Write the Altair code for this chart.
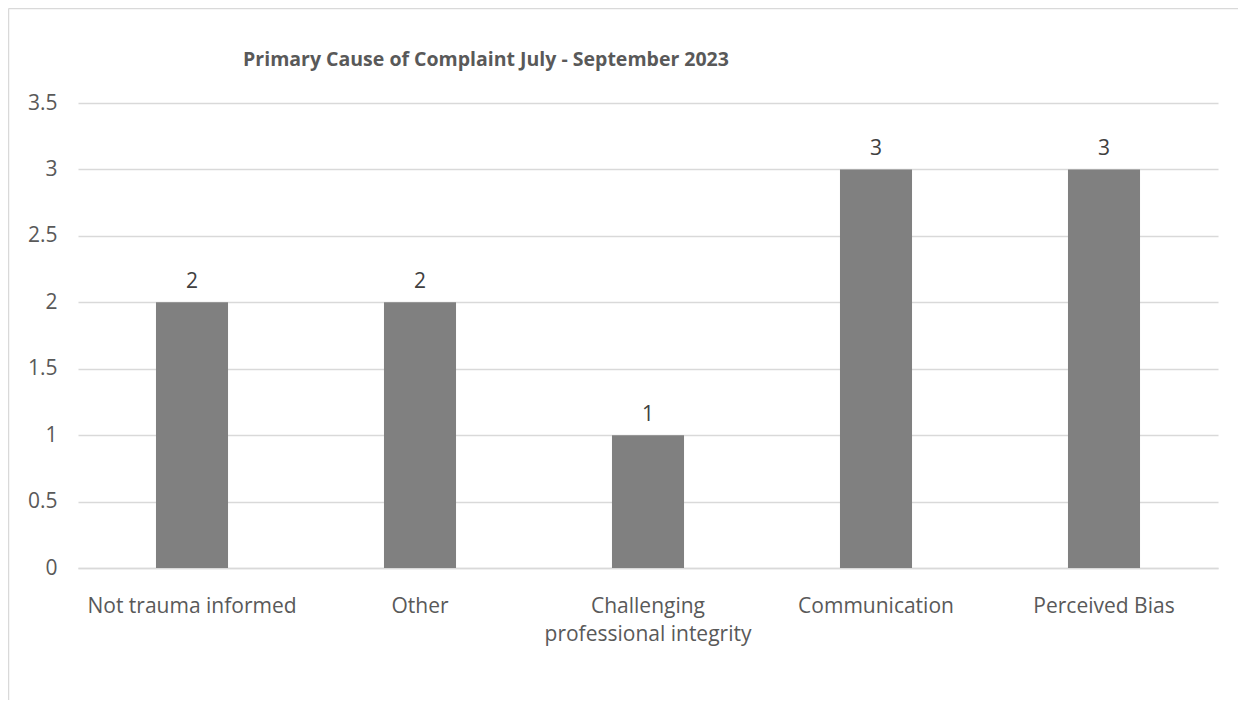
import altair as alt
import pandas as pd

categories = ["Not trauma informed", "Other", "Challenging\nprofessional integrity",
              "Communication", "Perceived Bias"]
counts = [2, 2, 1, 3, 3]
y_ticks = [0, 0.5, 1, 1.5, 2, 2.5, 3, 3.5]
title_text = "Primary Cause of Complaint July - September 2023"

df = pd.DataFrame({"cause": categories, "count": counts})

W, H = 1140, 465
FONT = "Open Sans"
TXT = "#595959"

x_enc = alt.X("cause:N", sort=categories,
              scale=alt.Scale(paddingInner=0.684, paddingOuter=0.342),
              axis=alt.Axis(title=None, labelAngle=0, labelFont=FONT, labelFontSize=21,
                            labelColor=TXT, labelPadding=27, ticks=False,
                            domainColor="#d9d9d9", domainWidth=1.5,
                            labelExpr="split(datum.label, '\\n')", labelLineHeight=28,
                            labelLimit=0))
y_enc = alt.Y("count:Q",
              scale=alt.Scale(domain=[0, 3.5], nice=False),
              axis=alt.Axis(title=None, values=y_ticks, format="~g", labelFont=FONT,
                            labelFontSize=21, labelColor=TXT, labelPadding=21,
                            ticks=False, domain=False, gridColor="#d9d9d9",
                            gridWidth=1.5))

bars = alt.Chart(df).mark_bar(color="#808080").encode(x=x_enc, y=y_enc)

labels = alt.Chart(df).mark_text(font=FONT, fontSize=21, color="#404040",
                                 baseline="alphabetic", dy=-14).encode(
    x=alt.X("cause:N", sort=categories), y="count:Q", text="count:Q")

frame_df = pd.DataFrame({"t": [title_text]})
top_border = alt.Chart(frame_df).mark_rule(color="#d9d9d9", strokeWidth=1.5).encode(
    x=alt.value(-69.5), x2=alt.value(W + 40), y=alt.value(-94.5))
left_border = alt.Chart(frame_df).mark_rule(color="#d9d9d9", strokeWidth=1.5).encode(
    x=alt.value(-69.5), y=alt.value(-94.5), y2=alt.value(H + 140))
title = alt.Chart(frame_df).mark_text(font=FONT, fontSize=19.5, fontWeight="bold",
                                      color=TXT, align="center",
                                      baseline="middle").encode(
    x=alt.value(408), y=alt.value(-43), text="t:N")

chart = alt.layer(top_border, left_border, bars, labels, title).properties(
    width=W, height=H,
    autosize=alt.AutoSizeParams(type="none"),
    padding={"left": 70, "top": 95, "right": 20, "bottom": 132},
).configure(background="white").configure_view(stroke=None)

chart.save("out.html", embed_options={"renderer": "svg", "actions": False})
